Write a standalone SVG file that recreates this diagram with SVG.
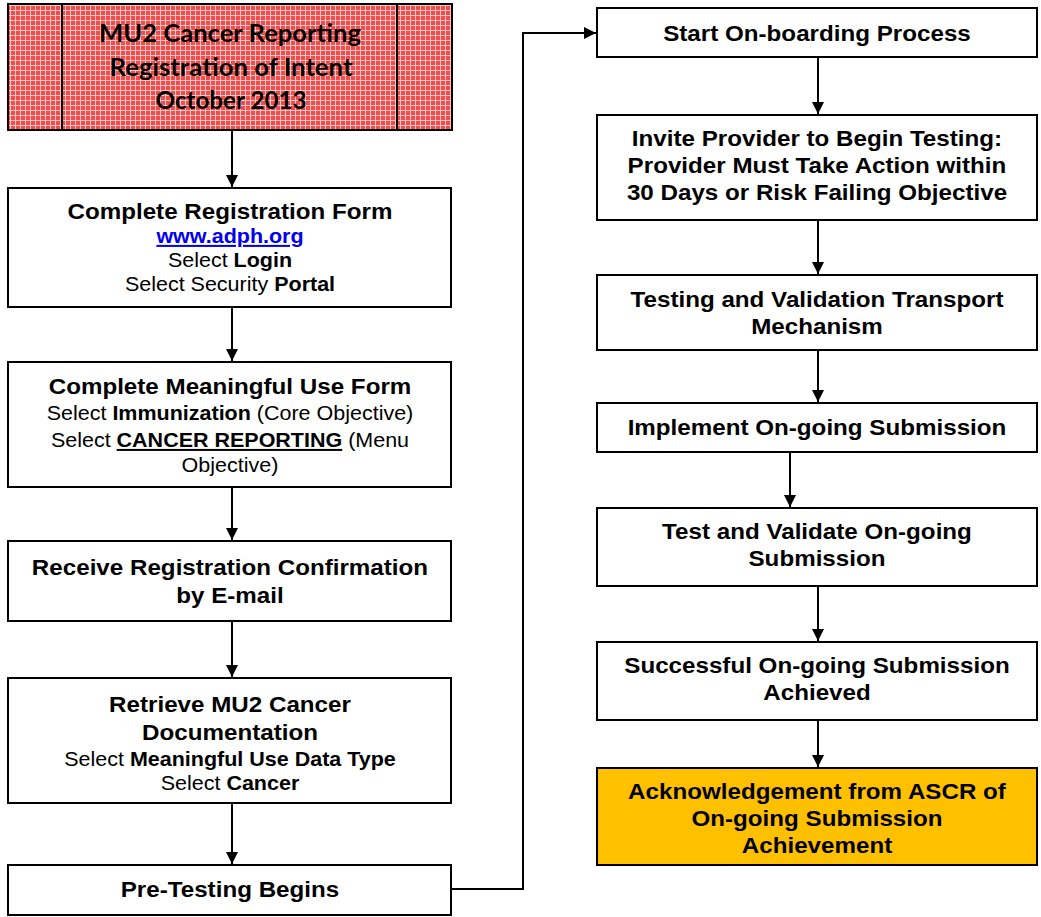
<svg xmlns="http://www.w3.org/2000/svg" width="1041" height="917" viewBox="0 0 1041 917">
<style>
.box{fill:#fff;stroke:#000;stroke-width:2}
.t{font-family:"Liberation Sans",Arial,sans-serif;font-weight:bold;font-size:22.5px;text-anchor:middle;fill:#000}
.n{font-family:"Liberation Sans",Arial,sans-serif;font-size:20px;text-anchor:middle;fill:#000}
.c{font-family:Lato,"Open Sans",sans-serif;font-weight:bold;font-size:24px;text-anchor:middle;fill:#000}
.b{font-weight:bold}
.con{fill:none;stroke:#000;stroke-width:2}
</style>
<defs>
<pattern id="grid" width="5" height="5" patternUnits="userSpaceOnUse">
<rect width="5" height="5" fill="#f24c4c"/>
<path d="M0 0.5H5M0.5 0V5" stroke="#ffc4c4" stroke-width="1"/>
</pattern>
<marker id="ah" markerWidth="12" markerHeight="12" refX="12" refY="6" orient="auto" markerUnits="userSpaceOnUse">
<path d="M0 0L12 6L0 12Z" fill="#000"/>
</marker>
</defs>
<g id="connectors">
<line class="con" x1="232" y1="131" x2="232" y2="187" marker-end="url(#ah)"/>
<line class="con" x1="232" y1="307" x2="232" y2="361" marker-end="url(#ah)"/>
<line class="con" x1="232" y1="487" x2="232" y2="540" marker-end="url(#ah)"/>
<line class="con" x1="232" y1="621" x2="232" y2="677" marker-end="url(#ah)"/>
<line class="con" x1="232" y1="803" x2="232" y2="864" marker-end="url(#ah)"/>
<polyline class="con" points="452,889 523,889 523,33 596,33" marker-end="url(#ah)"/>
<line class="con" x1="818" y1="57" x2="818" y2="114" marker-end="url(#ah)"/>
<line class="con" x1="818" y1="220" x2="818" y2="274" marker-end="url(#ah)"/>
<line class="con" x1="818" y1="350" x2="818" y2="402" marker-end="url(#ah)"/>
<line class="con" x1="790" y1="452" x2="790" y2="507" marker-end="url(#ah)"/>
<line class="con" x1="818" y1="586" x2="818" y2="641" marker-end="url(#ah)"/>
<line class="con" x1="818" y1="720" x2="818" y2="767" marker-end="url(#ah)"/>
</g>
<g id="n-intent">
<rect x="8" y="4" width="444" height="126" fill="url(#grid)" stroke="#000" stroke-width="2"/>
<line x1="62" y1="4" x2="62" y2="130" stroke="#000" stroke-width="2"/>
<line x1="397" y1="4" x2="397" y2="130" stroke="#000" stroke-width="2"/>
<text class="c" x="230" y="42" textLength="262" lengthAdjust="spacingAndGlyphs">MU2 Cancer Reporting</text>
<text class="c" x="231" y="76" textLength="243" lengthAdjust="spacingAndGlyphs">Registration of Intent</text>
<text class="c" x="231" y="109" textLength="151" lengthAdjust="spacingAndGlyphs">October 2013</text>
</g>
<g id="n-regform">
<rect class="box" x="8" y="188" width="443" height="119"/>
<g transform="matrix(1.075,0,0,1,-17.25,0)">
<text class="t" x="230" y="219">Complete Registration Form</text>
<text class="n b" x="230" y="243" text-decoration="underline" style="fill:#0000ee">www.adph.org</text>
<text class="n" x="230" y="267">Select <tspan class="b">Login</tspan></text>
<text class="n" x="230" y="291">Select Security <tspan class="b">Portal</tspan></text>
</g>
</g>
<g id="n-muform">
<rect class="box" x="8" y="362" width="443" height="125"/>
<g transform="matrix(1.075,0,0,1,-17.25,0)">
<text class="t" x="230" y="394">Complete Meaningful Use Form</text>
<text class="n" x="230" y="420">Select <tspan class="b">Immunization</tspan> (Core Objective)</text>
<text class="n" x="230" y="447">Select <tspan class="b" text-decoration="underline">CANCER REPORTING</tspan> (Menu</text>
<text class="n" x="230" y="472">Objective)</text>
</g>
</g>
<g id="n-confirm">
<rect class="box" x="8" y="541" width="443" height="80"/>
<g transform="matrix(1.075,0,0,1,-17.25,0)">
<text class="t" x="230" y="575">Receive Registration Confirmation</text>
<text class="t" x="230" y="603">by E-mail</text>
</g>
</g>
<g id="n-docs">
<rect class="box" x="8" y="678" width="443" height="125"/>
<g transform="matrix(1.075,0,0,1,-17.25,0)">
<text class="t" x="230" y="712">Retrieve MU2 Cancer</text>
<text class="t" x="230" y="740">Documentation</text>
<text class="n" x="230" y="766">Select <tspan class="b">Meaningful Use Data Type</tspan></text>
<text class="n" x="230" y="790">Select <tspan class="b">Cancer</tspan></text>
</g>
</g>
<g id="n-pretest">
<rect class="box" x="8" y="865" width="443" height="50"/>
<text class="t" x="230" y="897" transform="matrix(1.075,0,0,1,-17.25,0)">Pre-Testing Begins</text>
</g>
<g id="n-onboard">
<rect class="box" x="597" y="8" width="440" height="49"/>
<text class="t" x="817" y="41" transform="matrix(1.075,0,0,1,-61.275,0)">Start On-boarding Process</text>
</g>
<g id="n-invite">
<rect class="box" x="597" y="115" width="440" height="105"/>
<g transform="matrix(1.075,0,0,1,-61.275,0)">
<text class="t" x="817" y="146">Invite Provider to Begin Testing:</text>
<text class="t" x="817" y="173">Provider Must Take Action within</text>
<text class="t" x="817" y="200">30 Days or Risk Failing Objective</text>
</g>
</g>
<g id="n-transport">
<rect class="box" x="597" y="275" width="440" height="75"/>
<g transform="matrix(1.075,0,0,1,-61.275,0)">
<text class="t" x="817" y="307">Testing and Validation Transport</text>
<text class="t" x="817" y="334">Mechanism</text>
</g>
</g>
<g id="n-implement">
<rect class="box" x="597" y="403" width="440" height="49"/>
<text class="t" x="817" y="435" transform="matrix(1.075,0,0,1,-61.275,0)">Implement On-going Submission</text>
</g>
<g id="n-testvalidate">
<rect class="box" x="597" y="508" width="440" height="78"/>
<g transform="matrix(1.075,0,0,1,-61.275,0)">
<text class="t" x="817" y="539">Test and Validate On-going</text>
<text class="t" x="817" y="566">Submission</text>
</g>
</g>
<g id="n-success">
<rect class="box" x="597" y="642" width="440" height="78"/>
<g transform="matrix(1.075,0,0,1,-61.275,0)">
<text class="t" x="817" y="673">Successful On-going Submission</text>
<text class="t" x="817" y="700">Achieved</text>
</g>
</g>
<g id="n-ack">
<rect x="597" y="768" width="440" height="97" fill="#ffc000" stroke="#000" stroke-width="2"/>
<g transform="matrix(1.075,0,0,1,-61.275,0)">
<text class="t" x="817" y="799">Acknowledgement from ASCR of</text>
<text class="t" x="817" y="826">On-going Submission</text>
<text class="t" x="817" y="853">Achievement</text>
</g>
</g>
</svg>
